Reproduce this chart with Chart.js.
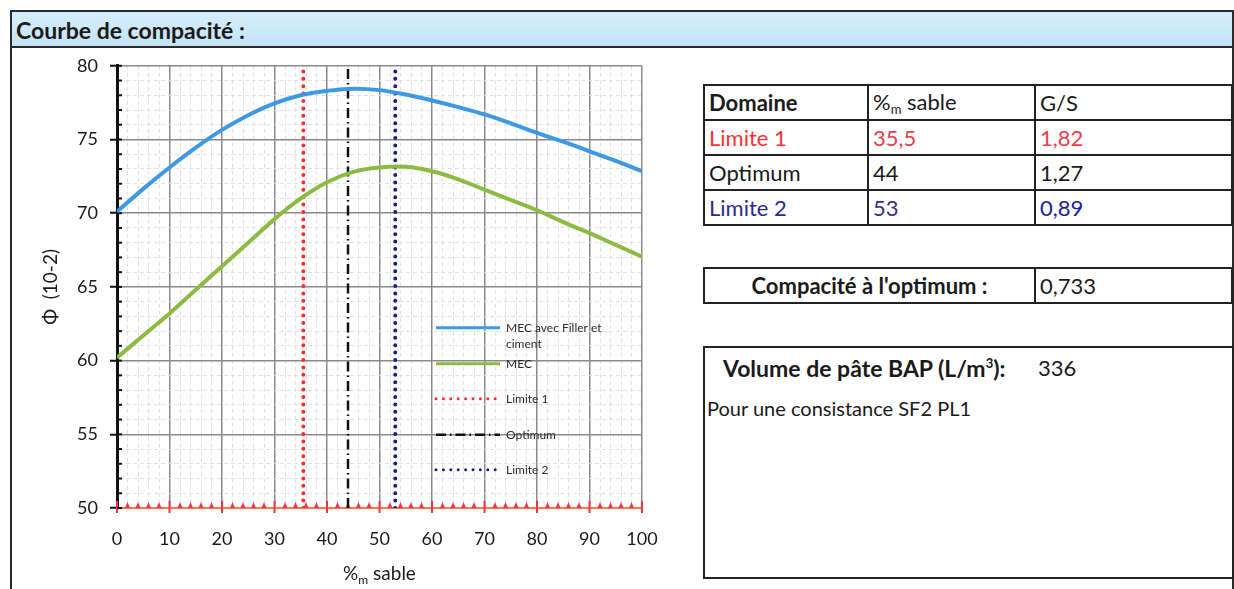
<!DOCTYPE html>
<html>
<head>
<meta charset="utf-8">
<script src="https://cdn.jsdelivr.net/npm/chart.js@4.4.1/dist/chart.umd.min.js"></script>
<style>
  body { margin:0; width:1234px; height:589px; overflow:hidden; background:#fff; font-family:'Lato',sans-serif; color:#1a1a1a; }
  #frame { position:absolute; left:10px; top:10px; width:1220px; height:600px; border:2px solid #2a2a2a; border-bottom:none; }
  #titlebar { position:absolute; left:10px; top:10px; width:1220px; height:34px; background:linear-gradient(#d6eefb,#c4e3f6); border:2px solid #2a2a2a; }
  #titlebar span { position:absolute; left:4px; top:4px; font-weight:700; font-size:23px; color:#1a1a1a; }
  #chartBox { position:absolute; left:12px; top:43px; width:680px; height:546px; }
  table { position:absolute; border-collapse:collapse; font-size:22px; }
  td { border:2px solid #222; padding:0 4px; height:33px; white-space:nowrap; }
  #tblDom { left:703px; top:84px; }
  #tblComp { left:703px; top:267px; }
  #volBox { position:absolute; left:703px; top:346px; width:527px; height:229px; border:2px solid #222; font-size:23px; }
  sub { font-size:13px; vertical-align:-4px; }
</style>
</head>
<body>
<div id="frame"></div>
<div id="chartBox"><canvas id="c"></canvas></div>
<div id="titlebar"><span>Courbe de compacité :</span></div>

<table id="tblDom">
  <tr><td style="width:154px;font-weight:700">Domaine</td><td style="width:157px">%<sub>m</sub> sable</td><td style="width:187px">G/S</td></tr>
  <tr><td style="color:#ff3030">Limite 1</td><td style="color:#e8404c">35,5</td><td style="color:#e8404c">1,82</td></tr>
  <tr><td>Optimum</td><td>44</td><td>1,27</td></tr>
  <tr><td style="color:#2a2a90">Limite 2</td><td style="color:#3a2e80">53</td><td style="color:#1c1c9c">0,89</td></tr>
</table>

<table id="tblComp">
  <tr><td style="width:321px;text-align:center;font-weight:700">Compacité à l'optimum :</td><td style="width:187px">0,733</td></tr>
</table>

<div id="volBox">
  <div style="position:absolute;left:18px;top:6px;font-weight:700">Volume de pâte BAP (L/m<sup style="font-size:13px">3</sup>):</div>
  <div style="position:absolute;left:333px;top:6px;font-size:22px">336</div>
  <div style="position:absolute;left:2px;top:48px;font-size:20px">Pour une consistance SF2 PL1</div>
</div>

<script>
// %m sable
const sable = [0, 5, 10, 15, 20, 25, 30, 35, 40, 45, 50, 55, 60, 65, 70, 75, 80, 85, 90, 95, 100];
// Φ (10-2)
const mecFiller = [70.1, 71.65, 73.1, 74.45, 75.65, 76.65, 77.45, 78.0, 78.3, 78.45, 78.35, 78.05, 77.65, 77.2, 76.7, 76.1, 75.45, 74.85, 74.2, 73.55, 72.85];
const mec = [60.2, 61.7, 63.2, 64.8, 66.4, 68.0, 69.6, 71.0, 72.1, 72.8, 73.1, 73.15, 72.85, 72.3, 71.6, 70.9, 70.2, 69.4, 68.65, 67.85, 67.05];
const limite1 = 35.5;
const optimum = 44;
const limite2 = 53;
const yRange = [50, 80];
const xTickLabels = [0, 10, 20, 30, 40, 50, 60, 70, 80, 90, 100];
const yTickLabels = [50, 55, 60, 65, 70, 75, 80];

const pts = (xs, ys) => xs.map((x, i) => ({ x, y: ys[i] }));
const vline = v => yRange.map(y => ({ x: v, y }));

const datasets = [
  { label: 'MEC avec Filler et ciment', data: pts(sable, mecFiller), borderColor: '#3d9ae2', borderWidth: 4, tension: 0.4 },
  { label: 'MEC', data: pts(sable, mec), borderColor: '#8dbb42', borderWidth: 4, tension: 0.4 },
  { label: 'Limite 1', data: vline(limite1), borderColor: '#ff2a2a', borderWidth: 4, borderDash: [0, 7.4], borderCapStyle: 'round' },
  { label: 'Optimum', data: vline(optimum), borderColor: '#111', borderWidth: 2.5, borderDash: [10, 4, 1.5, 4] },
  { label: 'Limite 2', data: vline(limite2), borderColor: '#1c1c88', borderWidth: 4, borderDash: [0, 7.4], borderCapStyle: 'round' },
];
datasets.forEach(d => { d.showLine = true; d.pointRadius = 0; d.fill = false; });

// draws inner minor ticks, red x-axis marks, axis titles and the in-plot legend
const decor = {
  id: 'decor',
  beforeDatasetsDraw(chart) {
    const { ctx, chartArea: a, scales: { x, y } } = chart;
    ctx.save();
    // red markers along the x axis
    ctx.fillStyle = '#ff3050';
    x.ticks.forEach(t => {
      if (t.value % 10 === 0) return;
      const px = x.getPixelForValue(t.value);
      ctx.beginPath();
      ctx.moveTo(px - 2.5, a.bottom);
      ctx.lineTo(px + 2.5, a.bottom);
      ctx.lineTo(px, a.bottom - 6);
      ctx.closePath();
      ctx.fill();
    });
    ctx.strokeStyle = '#ff3040';
    ctx.lineWidth = 2;
    x.ticks.forEach(t => {
      if (t.value % 10 !== 0) return;
      const px = x.getPixelForValue(t.value);
      ctx.beginPath(); ctx.moveTo(px, a.bottom - 7); ctx.lineTo(px, a.bottom + 5); ctx.stroke();
    });
    // inner y ticks
    ctx.strokeStyle = '#111';
    ctx.lineWidth = 2;
    y.ticks.forEach(t => {
      const py = y.getPixelForValue(t.value);
      ctx.beginPath(); ctx.moveTo(a.left, py); ctx.lineTo(a.left + 5, py); ctx.stroke();
    });
    ctx.restore();
  },
  afterDraw(chart) {
    const { ctx, chartArea: a } = chart;
    ctx.save();
    ctx.fillStyle = '#1a1a1a';
    // x title with subscript
    ctx.textBaseline = 'alphabetic';
    const cx = (a.left + a.right) / 2, by = a.bottom + 72;
    ctx.font = '19px Lato';
    const w1 = ctx.measureText('%').width;
    const w3 = ctx.measureText(' sable').width;
    ctx.font = '12px Lato';
    const w2 = ctx.measureText('m').width;
    let sx = cx - (w1 + w2 + w3) / 2;
    ctx.font = '19px Lato';
    ctx.fillText('%', sx, by);
    ctx.fillText(' sable', sx + w1 + w2, by);
    ctx.font = '12px Lato';
    ctx.fillText('m', sx + w1, by + 4);
    // y title
    ctx.translate(a.left - 66, (a.top + a.bottom) / 2);
    ctx.rotate(-Math.PI / 2);
    ctx.textAlign = 'center';
    ctx.textBaseline = 'middle';
    ctx.font = '19px Lato';
    ctx.fillText('Φ  (10-2)', 0, 0);
    ctx.restore();

    // legend inside plot
    ctx.save();
    const lx = a.left + 319, lw = 64;
    const rows = [262, 298, 333, 369, 404].map(o => a.top + o);
    chart.data.datasets.forEach((d, i) => {
      const ly = rows[i];
      ctx.strokeStyle = d.borderColor;
      ctx.lineWidth = i === 3 ? 2.5 : 3;
      ctx.lineCap = d.borderCapStyle || 'butt';
      ctx.setLineDash(d.borderDash || []);
      ctx.beginPath(); ctx.moveTo(lx, ly); ctx.lineTo(lx + lw, ly); ctx.stroke();
      ctx.setLineDash([]);
      ctx.fillStyle = '#2a2a2a';
      ctx.font = '12px Lato';
      ctx.textBaseline = 'middle';
      if (i === 0) {
        ctx.fillText('MEC avec Filler et', lx + lw + 6, ly);
        ctx.fillText('ciment', lx + lw + 6, ly + 16);
      } else {
        ctx.fillText(d.label, lx + lw + 6, ly);
      }
    });
    ctx.restore();
  }
};

const tickFont = { family: 'Lato', size: 18 };

new Chart(document.getElementById('c'), {
  type: 'scatter',
  data: { datasets },
  options: {
    responsive: true,
    maintainAspectRatio: false,
    animation: false,
    layout: { padding: { top: 0, right: 50, left: 0, bottom: 0 } },
    plugins: { legend: { display: false }, tooltip: { enabled: false } },
    scales: {
      x: {
        type: 'linear', min: 0, max: 100,
        ticks: {
          stepSize: 2, autoSkip: false, maxRotation: 0, color: '#1a1a1a', font: tickFont, padding: 14,
          callback: v => xTickLabels.includes(v) ? String(v) : ''
        },
        grid: {
          color: c => c.tick && c.tick.value % 10 === 0 ? '#8a8a8a' : '#dbe2ec',
          lineWidth: c => c.tick && c.tick.value % 10 === 0 ? 1.5 : 1,
          tickLength: 6,
          tickColor: 'rgba(0,0,0,0)'
        },
        border: { color: '#ff7a40', width: 2, dash: c => c.tick && c.tick.value % 10 !== 0 ? [4, 3] : [] },
        afterFit: s => { s.height = 81; }
      },
      y: {
        type: 'linear', min: yRange[0], max: yRange[1],
        ticks: {
          stepSize: 1, autoSkip: false, color: '#1a1a1a', font: tickFont, padding: 12,
          callback: v => yTickLabels.includes(v) ? String(v) : ''
        },
        grid: {
          color: c => c.tick && c.tick.value % 5 === 0 ? '#8a8a8a' : '#dbe2ec',
          lineWidth: c => c.tick && c.tick.value % 5 === 0 ? 1.5 : 1,
          tickLength: 7,
          tickColor: c => c.tick && c.tick.value % 5 === 0 ? '#111' : 'rgba(0,0,0,0)',
          tickWidth: 2
        },
        border: { color: '#111', width: 3, dash: c => c.tick && c.tick.value % 5 !== 0 ? [4, 3] : [] },
        afterFit: s => { s.width = 105; }
      }
    }
  },
  plugins: [decor]
});
</script>
</body>
</html>
